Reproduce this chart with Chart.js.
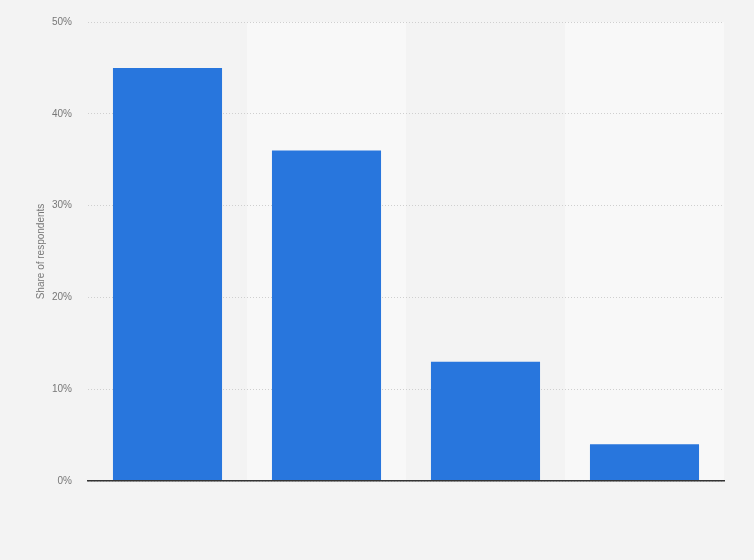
<!DOCTYPE html>
<html>
<head>
<meta charset="utf-8">
<script src="https://cdn.jsdelivr.net/npm/chart.js@4"></script>
<style>
    html, body { margin: 0; padding: 0; background: #f3f3f3; }
    #wrap { width: 754px; height: 560px; }
</style>
</head>
<body>
<div id="wrap"><canvas id="shareChart" width="754" height="560"></canvas></div>
<script>
const categories = ['', '', '', ''];
const shareValues = [45, 36, 13, 4];
const yTicks = [0, 10, 20, 30, 40, 50];

document.addEventListener("DOMContentLoaded", function () {
    const ctx = document.getElementById('shareChart').getContext('2d');

    // lighter background on every second column, drawn before grid and bars
    const bandPlugin = {
        id: 'bands',
        beforeDraw(chart) {
            const area = chart.chartArea;
            const x = chart.scales.x;
            const c = chart.ctx;
            const step = (area.right - area.left) / categories.length;
            c.save();
            c.fillStyle = '#f8f8f8';
            categories.forEach(function (cat, i) {
                if (i % 2 === 1) {
                    const cx = x.getPixelForValue(i);
                    c.fillRect(cx - step / 2, area.top, step, area.bottom - area.top);
                }
            });
            c.restore();
        }
    };

    new Chart(ctx, {
        type: 'bar',
        data: {
            labels: categories,
            datasets: [{
                label: 'Share of respondents',
                data: shareValues,
                backgroundColor: '#2876dd',
                categoryPercentage: 0.686,
                barPercentage: 1
            }]
        },
        plugins: [bandPlugin],
        options: {
            responsive: false,
            animation: false,
            layout: {
                padding: { top: 12, right: 30, bottom: 79, left: 0 }
            },
            scales: {
                x: {
                    ticks: { display: false },
                    grid: { display: false, drawTicks: false },
                    border: { display: true, color: '#333333', width: 1.5, z: 1 }
                },
                y: {
                    min: 0,
                    max: 50,
                    afterFit: function (scale) { scale.width = 88; },
                    afterBuildTicks: function (scale) {
                        scale.ticks = yTicks.map(function (v) { return { value: v }; });
                    },
                    ticks: {
                        color: '#777777',
                        padding: 16,
                        font: { family: 'Liberation Sans', size: 10 },
                        callback: function (v) { return v + '%'; }
                    },
                    grid: {
                        color: '#cfcfcf',
                        drawTicks: false,
                        lineWidth: 1
                    },
                    border: { display: false, dash: [1, 2] },
                    title: {
                        display: true,
                        text: 'Share of respondents',
                        color: '#777777',
                        font: { family: 'Liberation Sans', size: 10 },
                        padding: { top: 35, bottom: 0 }
                    }
                }
            },
            plugins: {
                legend: { display: false },
                tooltip: { enabled: false }
            }
        }
    });
});
</script>
</body>
</html>
